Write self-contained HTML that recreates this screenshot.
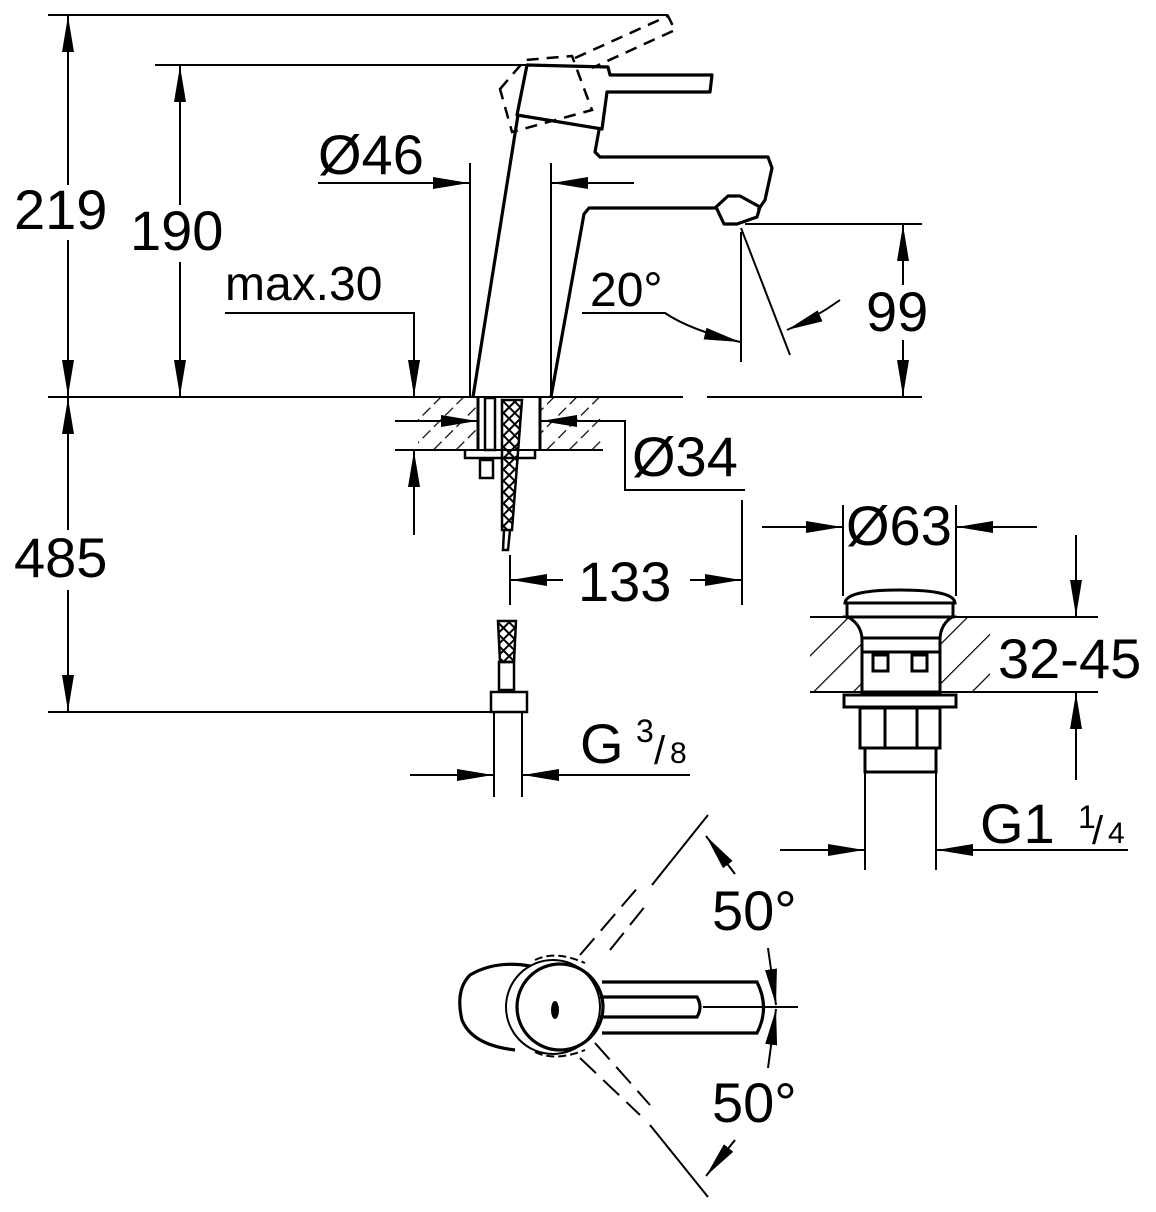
<!DOCTYPE html>
<html><head><meta charset="utf-8"><style>
html,body{margin:0;padding:0;background:#fff}
svg{display:block}
text{font-family:"Liberation Sans",sans-serif;fill:#000}
</style></head><body>
<svg width="1156" height="1212" viewBox="0 0 1156 1212" xmlns="http://www.w3.org/2000/svg">
<defs>
<marker id="a" viewBox="0 0 36 12" refX="36" refY="6" markerWidth="36" markerHeight="12" markerUnits="userSpaceOnUse" orient="auto" preserveAspectRatio="none"><path d="M0,0L36,6L0,12z" fill="#000"/></marker>
<pattern id="h" width="16" height="16" patternUnits="userSpaceOnUse" patternTransform="rotate(45)"><line x1="0" y1="0" x2="0" y2="16" stroke="#000" stroke-width="2.4" stroke-dasharray="11 5"/></pattern>
<pattern id="h2" width="28" height="28" patternUnits="userSpaceOnUse" patternTransform="rotate(45)"><line x1="0" y1="0" x2="0" y2="28" stroke="#000" stroke-width="2.4"/></pattern>
<pattern id="x" width="8" height="8" patternUnits="userSpaceOnUse" patternTransform="rotate(45)"><rect width="8" height="8" fill="none" stroke="#000" stroke-width="2"/></pattern>
</defs>
<g stroke="#000" fill="none" stroke-width="2">
<line x1="48" y1="15" x2="668" y2="15"/>
<line x1="155" y1="65" x2="530" y2="65"/>
<line x1="48" y1="397" x2="683" y2="397"/>
<line x1="707" y1="397" x2="922" y2="397"/>
<line x1="48" y1="712" x2="492" y2="712"/>
<line x1="68" y1="185" x2="68" y2="16" marker-end="url(#a)"/>
<line x1="68" y1="240" x2="68" y2="396" marker-end="url(#a)"/>
<line x1="68" y1="530" x2="68" y2="398" marker-end="url(#a)"/>
<line x1="68" y1="590" x2="68" y2="711" marker-end="url(#a)"/>
<line x1="180" y1="205" x2="180" y2="66" marker-end="url(#a)"/>
<line x1="180" y1="262" x2="180" y2="396" marker-end="url(#a)"/>
<polyline points="225,313 414,313 414,396" marker-end="url(#a)"/>
<line x1="414" y1="535" x2="414" y2="451" marker-end="url(#a)"/>
<line x1="318" y1="183" x2="469" y2="183" marker-end="url(#a)"/>
<line x1="634" y1="183" x2="552" y2="183" marker-end="url(#a)"/>
<line x1="470" y1="163" x2="470" y2="397"/>
<line x1="551" y1="163" x2="551" y2="397"/>
<g stroke-width="3.2" stroke-linejoin="round">
<polyline points="473,397 518,115"/>
<polygon points="527,65 608,67 610,75 712,75 710,92 607,92 602,129 517,115"/>
<polyline points="599,130 595,152 600,157 768,157 772,168 765,200 758,210"/>
<polygon points="716,207 728,196 740,196 760,207 757,217 737,224 724,224"/>
<polyline points="716,208 589,208 584,214 551,397"/>
</g>
<g stroke-dasharray="12 8" stroke-width="2.5">
<polygon points="500,89 525,60 572,56 592,110 512,132"/>
<polyline points="575,58 668,16 675,30 592,68"/>
</g>
<path d="M582,313 L665,313 Q690,330 740,342" marker-end="url(#a)"/>
<line x1="741" y1="232" x2="741" y2="362"/>
<line x1="741" y1="228" x2="790" y2="355"/>
<path d="M840,300 Q815,318 787,330" marker-end="url(#a)"/>
<line x1="745" y1="224" x2="922" y2="224"/>
<line x1="903" y1="285" x2="903" y2="225" marker-end="url(#a)"/>
<line x1="903" y1="340" x2="903" y2="396" marker-end="url(#a)"/>
<rect x="418" y="398" width="60" height="51" fill="url(#h)" stroke="none"/>
<rect x="540" y="398" width="63" height="51" fill="url(#h)" stroke="none"/>
<line x1="395" y1="450" x2="603" y2="450"/>
<line x1="478" y1="397" x2="478" y2="450" stroke-width="3"/>
<line x1="540" y1="397" x2="540" y2="450" stroke-width="3"/>
<rect x="485" y="398" width="10" height="52" stroke-width="2.5"/>
<polygon points="502,400 522,400 512,530 502,530" fill="url(#x)" stroke-width="2.5"/>
<polyline points="504,530 503,550 508,550 510,530" stroke-width="2.5"/>
<polyline points="465,450 465,458 535,458 535,450" stroke-width="2.5"/>
<rect x="480" y="460" width="13" height="18" stroke-width="2.5"/>
<line x1="395" y1="421" x2="477" y2="421" marker-end="url(#a)"/>
<line x1="620" y1="421" x2="541" y2="421" marker-end="url(#a)"/>
<polyline points="540,421 625,421 625,490 745,490"/>
<line x1="510" y1="555" x2="510" y2="605"/>
<line x1="742" y1="500" x2="742" y2="605"/>
<line x1="563" y1="580" x2="511" y2="580" marker-end="url(#a)"/>
<line x1="690" y1="580" x2="741" y2="580" marker-end="url(#a)"/>
<polygon points="498,621 516,621 514,662 500,662" fill="url(#x)" stroke-width="2.5"/>
<rect x="499" y="662" width="15" height="28" stroke-width="2.5"/>
<rect x="491" y="692" width="36" height="20" stroke-width="2.5"/>
<line x1="494" y1="712" x2="494" y2="797"/>
<line x1="522" y1="712" x2="522" y2="797"/>
<line x1="410" y1="775" x2="493" y2="775" marker-end="url(#a)"/>
<line x1="690" y1="775" x2="523" y2="775" marker-end="url(#a)"/>
<line x1="762" y1="527" x2="842" y2="527" marker-end="url(#a)"/>
<line x1="1037" y1="527" x2="957" y2="527" marker-end="url(#a)"/>
<line x1="843" y1="505" x2="843" y2="596"/>
<line x1="956" y1="505" x2="956" y2="596"/>
<rect x="810" y="618" width="180" height="73" fill="url(#h2)" stroke="none"/>
<line x1="810" y1="617" x2="1098" y2="617"/>
<line x1="810" y1="692" x2="1098" y2="692"/>
<g stroke-width="3" fill="#fff">
<path d="M845,603 Q846,590 900,590 Q954,590 955,603 Z"/>
<rect x="847" y="603" width="106" height="14"/>
<path d="M848,617 Q862,625 862,640 L862,692 L940,692 L940,640 Q940,625 952,617 Z"/>
<rect x="862" y="638" width="78" height="14"/>
<rect x="873" y="655" width="15" height="16"/>
<rect x="912" y="655" width="15" height="16"/>
<rect x="844" y="695" width="112" height="12"/>
<rect x="860" y="708" width="80" height="40"/>
<line x1="885" y1="708" x2="885" y2="748"/>
<line x1="917" y1="708" x2="917" y2="748"/>
<rect x="865" y="748" width="71" height="24"/>
</g>
<line x1="865" y1="772" x2="865" y2="870"/>
<line x1="936" y1="772" x2="936" y2="870"/>
<line x1="1076" y1="535" x2="1076" y2="616" marker-end="url(#a)"/>
<line x1="1076" y1="780" x2="1076" y2="693" marker-end="url(#a)"/>
<line x1="780" y1="850" x2="864" y2="850" marker-end="url(#a)"/>
<line x1="1128" y1="850" x2="937" y2="850" marker-end="url(#a)"/>
<g stroke-width="3.2">
<path d="M530,966 Q495,960 470,975 Q455,990 462,1020 Q472,1045 515,1050"/>
<circle cx="560" cy="1007" r="43"/>
<circle cx="553" cy="1007" r="47" stroke-width="2"/>
<path d="M602,982 L757,982 Q770,1008 757,1033 L602,1033"/>
<path d="M600,997 L697,997 Q703,1007 697,1017 L600,1017"/>
</g>
<ellipse cx="555" cy="1010" rx="4" ry="9" fill="#000" stroke="none"/>
<path d="M535,960 Q555,950 585,963" stroke-dasharray="8 4"/>
<path d="M535,1052 Q555,1062 585,1050" stroke-dasharray="8 4"/>
<line x1="703" y1="1007" x2="798" y2="1007"/>
<line x1="708" y1="815" x2="652" y2="885"/>
<g stroke-dasharray="22 10"><line x1="580" y1="955" x2="640" y2="885"/><line x1="610" y1="950" x2="650" y2="900"/>
<line x1="580" y1="1058" x2="640" y2="1115"/><line x1="595" y1="1043" x2="650" y2="1105"/></g>
<line x1="708" y1="1197" x2="650" y2="1125"/>
<line x1="735" y1="874" x2="706" y2="836" marker-end="url(#a)"/>
<line x1="735" y1="1140" x2="706" y2="1176" marker-end="url(#a)"/>
<line x1="768" y1="948" x2="776" y2="1005" marker-end="url(#a)"/>
<line x1="768" y1="1068" x2="776" y2="1009" marker-end="url(#a)"/>
</g>
<g font-size="56">
<text x="14" y="229">219</text>
<text x="130" y="250">190</text>
<text x="14" y="577">485</text>
<text x="225" y="300" font-size="48">max.30</text>
<text x="318" y="174">Ø46</text>
<text x="590" y="306" font-size="48">20°</text>
<text x="866" y="331">99</text>
<text x="632" y="476">Ø34</text>
<text x="578" y="601">133</text>
<text x="580" y="763">G</text>
<text x="636" y="742" font-size="32">3</text>
<text x="654" y="764" font-size="40">/</text><text x="670" y="763" font-size="30">8</text>
<text x="980" y="843">G1</text>
<text x="1078" y="828" font-size="32">1</text>
<text x="1092" y="844" font-size="40">/</text><text x="1108" y="843" font-size="30">4</text>
<text x="846" y="545">Ø63</text>
<text x="998" y="678">32-45</text>
<text x="712" y="930">50°</text>
<text x="712" y="1122">50°</text>
</g>
</svg>
</body></html>
